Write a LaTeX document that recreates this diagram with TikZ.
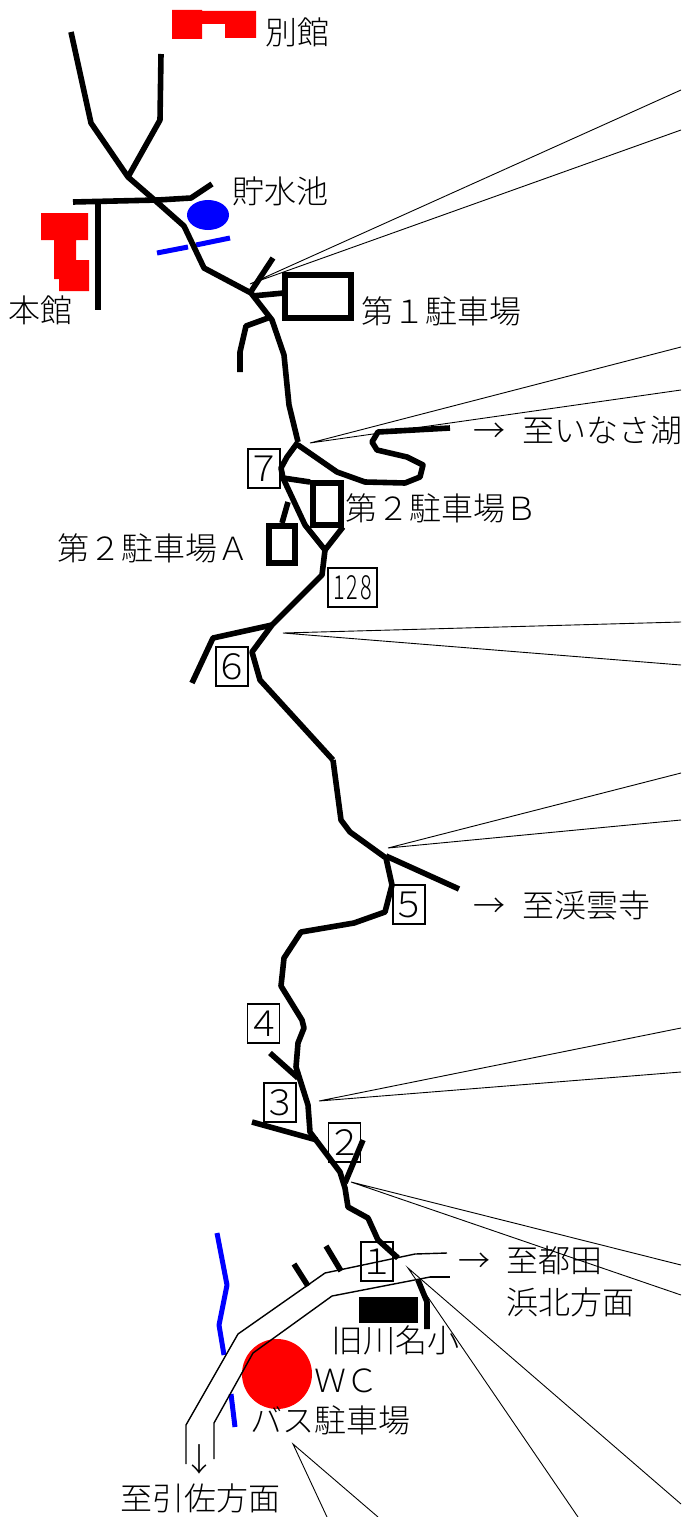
\documentclass[tikz,border=0pt]{standalone}
\usepackage{graphicx}
\usepackage{fontspec}
\setmainfont{Noto Sans CJK JP Light}
\tikzset{
  road/.style={line width=5.6pt,line join=round,draw=black},
  parking/.style={line width=6pt,draw=black},
  water/.style={line width=5pt,draw=blue},
  thinroad/.style={line width=1.4pt,draw=black},
  lead/.style={line width=0.9pt,draw=black},
  building/.style={fill=red,draw=none},
  lab/.style={anchor=west,inner sep=0pt,font=\fontsize{32}{32}\selectfont,text height=27.5pt,text depth=4.5pt,text=black},
  numbox/.style={draw=black,line width=1.3pt,inner sep=0pt,minimum height=39pt,font=\fontsize{35}{35}\selectfont,text=black}
}
\newcommand{\boxdigit}[1]{\makebox[0pt]{#1}}
\begin{document}
\begin{tikzpicture}[x=1pt,y=-1pt]
\useasboundingbox (0,0) rectangle (681,1517);
% buildings and water
\fill[building] (172,10) -- (202,10) -- (202,11) -- (256,11) -- (256,38) -- (225,38) -- (225,24) -- (202,24) -- (202,39) -- (172,39) -- cycle;
\fill[building] (41,213) -- (88,213) -- (88,240) -- (76,240) -- (76,260) -- (89,260) -- (89,291) -- (59,291) -- (59,279) -- (54,279) -- (54,240) -- (41,240) -- cycle;
\fill[blue] (208,215) ellipse [x radius=21,y radius=15];
\fill[red] (277,1374) circle [radius=35];
\draw[water] (157,253) -- (188,247);
\draw[water] (196,245) -- (230,238);
\draw[water,line join=round] (217,1233) -- (227,1285) -- (219,1325) -- (224,1355);
\draw[water] (231,1394) -- (235,1427);
% upper roads
\draw[road] (71,32) -- (91,123) -- (128,177) -- (160,120) -- (161,54);
\draw[road] (128,177) -- (158,203) -- (184,226) -- (204,268) -- (251,293) -- (272,320) -- (284,355) -- (289,405) -- (298,442);
\draw[road] (73,202) -- (158,200) -- (191,198) -- (212,184);
\draw[road] (98,202) -- (98,310);
\draw[road] (250,293) -- (273,258);
\draw[road] (252,296) -- (284,293);
\draw[road] (268,318) -- (246,326) -- (240,352) -- (240,372);
\draw[parking] (285,275) rectangle (351,318);
% second parking area
\draw[road] (298,442) -- (287,457) -- (281,468) -- (283,478) -- (310,482);
\draw[road] (283,478) -- (305,525) -- (325,550) -- (343,527);
\draw[road] (325,550) -- (322,575) -- (272,625) -- (252,652) -- (260,680) -- (333,760);
\draw[road] (272,625) -- (213,638) -- (192,683);
\draw[road] (298,445) -- (337,472) -- (365,482) -- (405,483) -- (420,477) -- (423,465) -- (407,457) -- (377,450) -- (372,442) -- (378,432) -- (450,428);
\draw[parking] (313,483) rectangle (340.5,524.5);
\draw[parking] (269,526) rectangle (295,563);
\draw[road] (282,523) -- (288,502);
% lower main road
\draw[road] (333,760) -- (341,820) -- (350,832) -- (386,858) -- (392,885) -- (385,912) -- (354,923) -- (301,932) -- (284,958) -- (281,986) -- (302,1020) -- (304,1028) -- (298,1043) -- (296,1067) -- (308,1105) -- (310,1132) -- (340,1172) -- (345,1188) -- (348,1207) -- (368,1218) -- (378,1240) -- (398,1258);
\draw[road] (386,856) -- (459,889);
\draw[road] (270,1053) -- (298,1078);
\draw[road] (252,1122) -- (317,1140);
\draw[road] (363,1140) -- (345,1183);
\draw[road] (294,1264) -- (308,1286);
\draw[road] (326,1246) -- (341,1271);
\draw[road] (418,1280) -- (427,1302) -- (427,1329);
\fill[black] (359,1297) rectangle (418,1323);
% thin roads
\draw[thinroad] (186,1464) -- (186,1425) -- (238,1334) -- (325,1273) -- (415,1254) -- (447,1253);
\draw[thinroad] (214,1459) -- (214,1423) -- (253,1353) -- (332,1296) -- (430,1277);
\draw[line width=1.8pt] (430,1277) -- (450,1277);
% leader lines
\coordinate (apexA) at (250,284);
\coordinate (apexB) at (310,443);
\coordinate (apexC) at (283,633);
\coordinate (apexD) at (388,848);
\coordinate (apexE) at (319,1101);
\coordinate (apexF) at (351,1182);
\coordinate (apexG) at (408,1268);
\coordinate (apexH) at (293,1444);
\draw[lead] (681,90) -- (apexA) -- (681,130);
\draw[lead] (681,347) -- (apexB) -- (681,390);
\draw[lead] (681,622) -- (apexC) -- (681,665);
\draw[lead] (681,773) -- (apexD) -- (681,820);
\draw[lead] (681,1028) -- (apexE) -- (681,1072);
\draw[lead] (681,1265) -- (apexF) -- (681,1295);
\draw[lead] (578,1517) -- (apexG) -- (681,1504);
\draw[lead] (327,1517) -- (apexH) -- (378,1517);
% numbered boxes
\node[numbox,minimum width=32pt] (n7) at (264,468.5) {\boxdigit{７}};
\node[numbox,minimum width=32pt] (n6) at (232,666.5) {\boxdigit{６}};
\node[numbox,minimum width=32pt] (n5) at (409,904.5) {\boxdigit{５}};
\node[numbox,minimum width=32pt] (n4) at (263.5,1023.5) {\boxdigit{４}};
\node[numbox,minimum width=32pt] (n3) at (280,1102.5) {\boxdigit{３}};
\node[numbox,minimum width=32pt] (n2) at (344.5,1142.5) {\boxdigit{２}};
\node[numbox,minimum width=32pt] (n1) at (377,1261.5) {\boxdigit{１}};
\node[numbox,minimum width=49pt] (n128) at (352.5,587.5) {\scalebox{0.62}[0.95]{1\hspace{3pt}2\hspace{3pt}8}};
% labels
\node[lab] (lBekkan) at (265,33) {別館};
\node[lab] (lChosui) at (232,192) {貯水池};
\node[lab] (lHonkan) at (8,311) {本館};
\node[lab] (lP1) at (361,312) {第１駐車場};
\node[lab] (lPB) at (345,509) {第２駐車場Ｂ};
\node[lab] (lPA) at (57,549) {第２駐車場Ａ};
\node[lab] (aIn) at (473,431) {→};
\node[lab] (lIn) at (522,431) {至いなさ湖};
\node[lab] (aKe) at (473,906) {→};
\node[lab] (lKe) at (522,906) {至渓雲寺};
\node[lab] (aTo) at (458,1261) {→};
\node[lab] (lTo) at (506,1261) {至都田};
\node[lab] (lHa) at (506,1303) {浜北方面};
\node[lab] (lKy) at (331,1341) {旧川名小};
\node[lab] (lWC) at (314,1381) {ＷＣ};
\node[lab] (lBu) at (250,1421) {バス駐車場};
\node[lab,anchor=center] (aHi) at (199,1460) {↓};
\node[lab] (lHi) at (120,1499) {至引佐方面};
\end{tikzpicture}
\end{document}
